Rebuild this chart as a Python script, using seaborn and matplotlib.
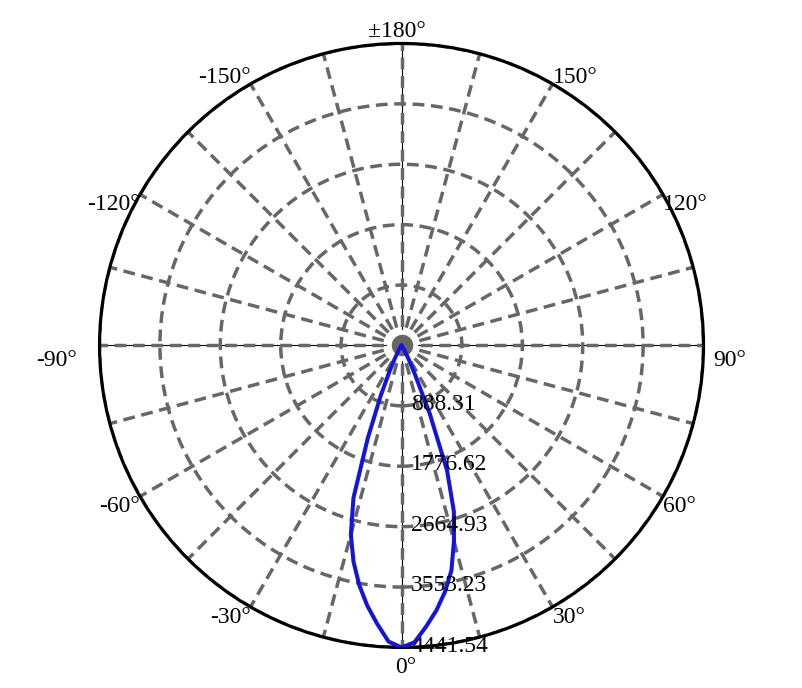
import numpy as np
import matplotlib
matplotlib.use("Agg")
import matplotlib.pyplot as plt
import seaborn as sns

# luminous intensity (cd) vs gamma angle, both halves of the C-plane
gamma = [0, 2.5, 5, 7.5, 10, 12.5, 15, 17.5, 20, 22.5, 25, 27.5, 30, 32.5, 35, 37.5, 40,
         45, 50, 60, 70, 80, 90, 100, 110, 120, 130, 140, 150, 160, 170, 180]
cd_right = [4441.54, 4370, 4150, 3930, 3680, 3390, 2980, 2560, 1960, 1080, 450, 220, 110, 50, 25, 10, 5,
            2, 0, 0, 0, 0, 0, 0, 0, 0, 0, 0, 0, 0, 0, 0]
cd_left = [4441.54, 4360, 4110, 3860, 3580, 3260, 2880, 2350, 1450, 800, 410, 200, 90, 40, 20, 8, 3,
           1, 0, 0, 0, 0, 0, 0, 0, 0, 0, 0, 0, 0, 0, 0]

r_ticks = [888.31, 1776.62, 2664.93, 3553.23, 4441.54]
r_labels = ["888.31", "1776.62", "2664.93", "3553.23", "4441.54"]
angle_ticks = [0, 30, 60, 90, 120, 150, 180, -150, -120, -90, -60, -30]
angle_labels = ["0°", "30°", "60°", "90°", "120°", "150°", "±180°", "-150°", "-120°", "-90°", "-60°", "-30°"]

sns.set_theme(style="white")
plt.rcParams['font.family'] = ['Liberation Serif', 'DejaVu Serif']

grey = "#676767"
dash = (0, (3.4, 1.9))

fig = plt.figure(figsize=(8.02, 6.88), dpi=100)
ax = fig.add_axes([0.1241, 0.0589, 0.7531, 0.878], projection="polar")
ax.set_theta_zero_location("S")
ax.set_theta_direction(1)
rmax = r_ticks[-1]
ax.set_ylim(0, rmax)

ax.set_xticks(np.deg2rad(np.arange(0, 360, 15)))
ax.set_xticklabels([])
ax.set_yticks(r_ticks)
ax.set_yticklabels([])
ax.grid(True, color=grey, linestyle=dash, linewidth=2.5)
ax.spines["polar"].set_color("black")
ax.spines["polar"].set_linewidth(2.3)

# thin black lines under the main axes
for a in [0, 90, 180, 270]:
    ax.plot([np.deg2rad(a)] * 2, [0, rmax], color="black", lw=0.8, zorder=0.3)

ax.plot(0, 0, "o", ms=19, color=grey, mec="white", mew=3.5, zorder=1)

# build the curve: left half with negative angles, then right half
theta = np.deg2rad(np.concatenate([-np.array(gamma[::-1]), np.array(gamma[1:])]))
rr = np.concatenate([np.array(cd_left[::-1]), np.array(cd_right[1:])])
sns.lineplot(x=theta, y=rr, ax=ax, sort=False, color="#1414dc", lw=2.9, zorder=3)

for r, lab in zip(r_ticks, r_labels):
    ax.annotate(lab, (0, r), xytext=(7, 1), textcoords="offset points",
                ha="left", va="center", fontsize=17, color="black", zorder=4)

for a, lab in zip(angle_ticks, angle_labels):
    ha = "left" if 0 < a < 180 else ("right" if a < 0 else "center")
    va = "top"
    off = (0, 0)
    if abs(a) >= 150:
        va = "baseline"
    if a == 0:
        off = (3, -7)
    elif a == 180:
        off = (-3, 5)
    elif a == 90:
        off = (7, -3.5)
    elif a == -90:
        off = (-16, -3.5)
    elif abs(a) == 150:
        off = (0, 1)
    ax.annotate(lab, (np.deg2rad(a), rmax), xytext=off, textcoords="offset points",
                ha=ha, va=va, fontsize=17, color="black", annotation_clip=False)

fig.savefig("out.png", dpi=100, facecolor="white")
